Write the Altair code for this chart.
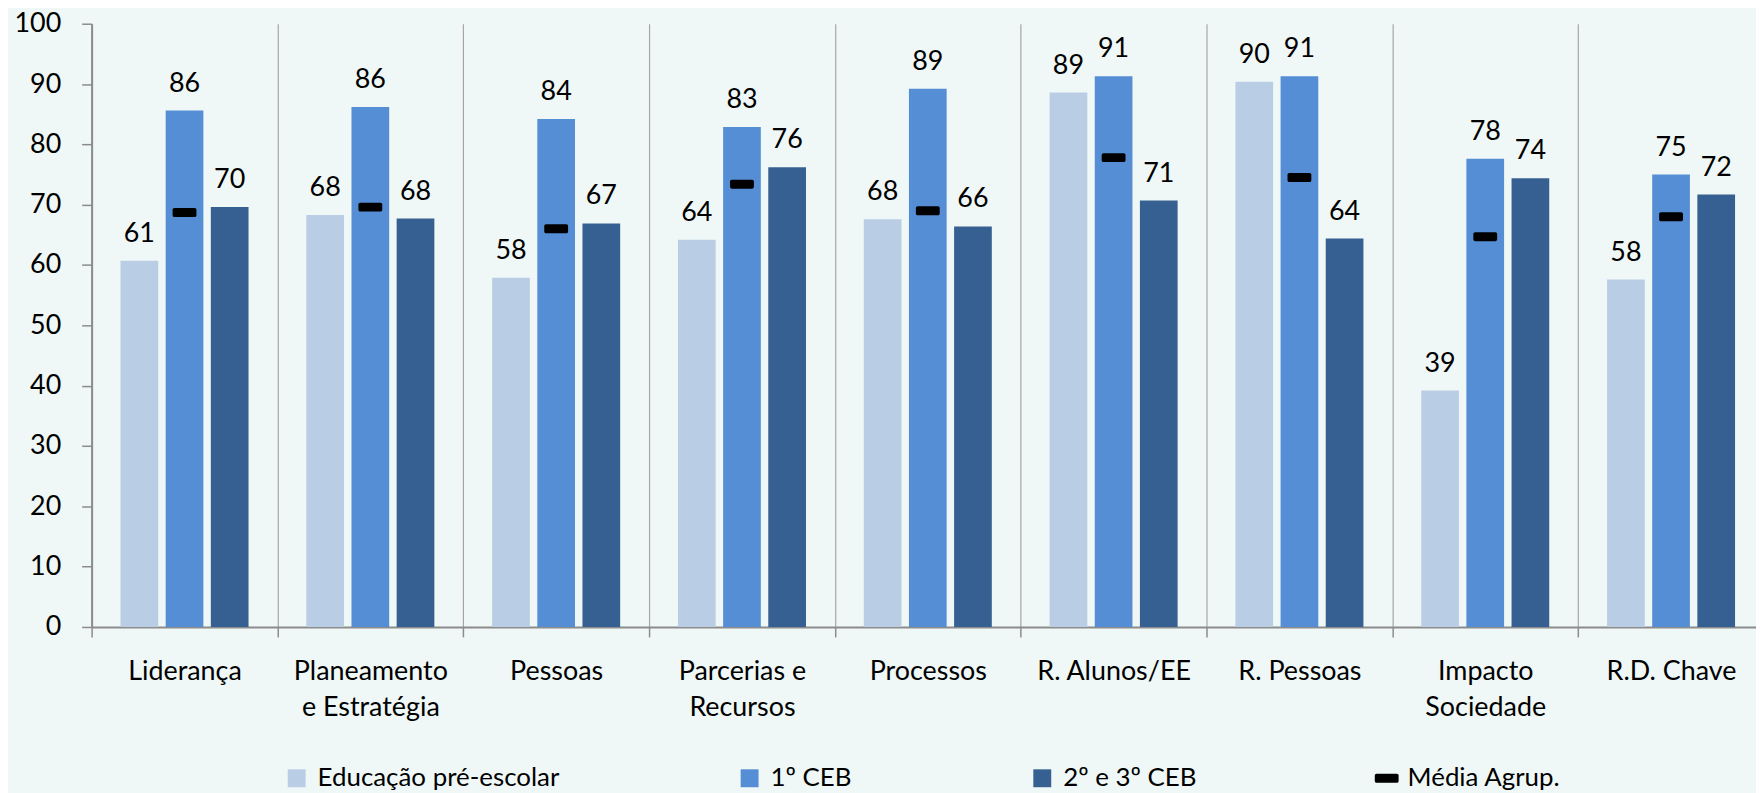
import altair as alt
import pandas as pd

categories = ["Liderança", "Planeamento\ne Estratégia", "Pessoas", "Parcerias e\nRecursos",
              "Processos", "R. Alunos/EE", "R. Pessoas", "Impacto\nSociedade", "R.D. Chave"]
series_bars = ["Educação pré-escolar", "1º CEB", "2º e 3º CEB"]
series_mean = "Média Agrup."
pre_escolar = [60.7, 68.3, 57.9, 64.2, 67.6, 88.6, 90.4, 39.2, 57.6]
ceb1 = [85.6, 86.2, 84.2, 82.9, 89.2, 91.3, 91.3, 77.6, 75.0]
ceb23 = [69.6, 67.7, 66.9, 76.2, 66.4, 70.7, 64.4, 74.4, 71.7]
media = [68.7, 69.6, 66.0, 73.4, 69.0, 77.8, 74.5, 64.7, 68.0]

series_all = series_bars + [series_mean]
colors = ["#B9CDE5", "#558ED5", "#376092", "#000000"]
dash = ("M-1.13,-0.5H1.13A0.2,0.2 0 0 1 1.33,-0.3V0.3A0.2,0.2 0 0 1 1.13,0.5"
        "H-1.13A0.2,0.2 0 0 1 -1.33,0.3V-0.3A0.2,0.2 0 0 1 -1.13,-0.5Z")
shapes = ["square", "square", "square", dash]

rows = []
for name, vals in zip(series_all, [pre_escolar, ceb1, ceb23, media]):
    for c, v in zip(categories, vals):
        rows.append({"category": c, "series": name, "value": v})
df = pd.DataFrame(rows)

font = "Lato"
x_enc = alt.X(
    "category:N", sort=categories,
    scale=alt.Scale(domain=categories, range=[0, 1680], paddingInner=0, paddingOuter=0),
    axis=alt.Axis(title=None, labelAngle=0, tickBand="extent", grid=True,
                  gridColor="#A6A6A6", gridWidth=1.2, domainColor="#8C8C8C", domainWidth=2,
                  tickColor="#8C8C8C", tickSize=10, tickWidth=1.5,
                  labelExpr="split(datum.label, '\\n')", labelFontSize=27,
                  labelLineHeight=36, labelPadding=22, labelColor="#000000", labelFont=font),
)
y_enc = alt.Y(
    "value:Q", scale=alt.Scale(domain=[0, 100]),
    axis=alt.Axis(title=None, values=list(range(0, 101, 10)), grid=False,
                  domainColor="#8C8C8C", domainWidth=2, tickColor="#8C8C8C", tickSize=10,
                  tickWidth=1.5, labelFontSize=27, labelPadding=21, labelColor="#000000",
                  labelFont=font),
)
color_enc = alt.Color(
    "series:N", scale=alt.Scale(domain=series_all, range=colors),
    legend=alt.Legend(title=None, orient="none", legendX=193, legendY=745,
                      direction="horizontal", columns=4, columnPadding=178,
                      symbolSize=324, symbolStrokeWidth=0, labelFontSize=26,
                      labelOffset=8, labelLimit=0, labelColor="#000000", labelFont=font,
                      padding=0),
)
shape_enc = alt.Shape("series:N", scale=alt.Scale(domain=series_all, range=shapes))
xoff = alt.XOffset("series:N", sort=series_bars,
                   scale=alt.Scale(domain=series_bars, paddingInner=0.165, paddingOuter=0.64))

base = alt.Chart(df)
bars = base.transform_filter(alt.FieldOneOfPredicate(field="series", oneOf=series_bars)).mark_bar().encode(
    x=x_enc, y=y_enc, xOffset=xoff, color=color_enc)
labels = base.transform_filter(alt.FieldOneOfPredicate(field="series", oneOf=series_bars)).mark_text(
    baseline="alphabetic", dy=-19, fontSize=27, font=font, color="#000000").encode(
    x=x_enc, y=y_enc, xOffset=xoff, text=alt.Text("value:Q", format=".0f"))
means = base.transform_filter(alt.FieldEqualPredicate(field="series", equal=series_mean)).mark_point(
    filled=True, opacity=1, size=324, strokeWidth=0).encode(
    x=x_enc, y=y_enc, color=color_enc, shape=shape_enc)

chart = alt.layer(bars, labels, means).properties(
    width=1672, height=606,
    autosize=alt.AutoSizeParams(type="none"),
    padding={"left": 84, "top": 14, "right": 0, "bottom": 165},
).configure(background="#EFF8F6", font=font).configure_view(stroke=None)

chart.save("out.html", embed_options={"renderer": "svg", "actions": False})
